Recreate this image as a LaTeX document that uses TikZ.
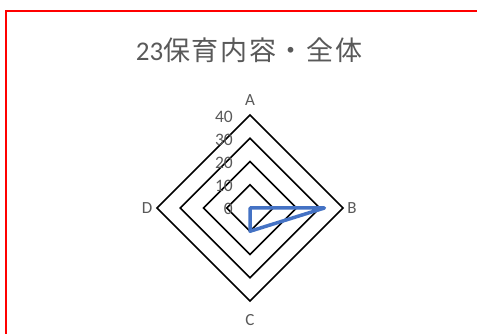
\documentclass[tikz,border=0pt]{standalone}
\usepackage{fontspec}
\setmainfont{Carlito}
\newfontfamily\jpfont[LetterSpace=6]{Noto Sans CJK JP}
\usepackage{tikz}
\definecolor{labelgray}{HTML}{595959}
\definecolor{seriesblue}{HTML}{4472C4}
\tikzset{% chart looks
        grid line/.style={black, line width=1.5pt, line join=miter},
        axis label/.style={text=labelgray, font=\fontsize{17}{17}\selectfont, inner sep=1pt},
        tick label/.style={text=labelgray, font=\fontsize{17.5}{17.5}\selectfont, inner sep=0pt, anchor=east}
        }

\begin{document}
\begin{tikzpicture}[x=1pt,y=-1pt]
\useasboundingbox (0,0) rectangle (477,334);
\clip (0,0) rectangle (477,334);
\fill[white] (0,0) rectangle (477,334);
\draw[red, line width=2.2pt] (6,11) rectangle (500,360);

\node [text=labelgray, font=\fontsize{27}{30}\selectfont] (title) at (249,50) {23{\jpfont 保育内容・全体}};

% grid: 10 per 23.25
\draw[grid line] (250,184.75) -- (273.25,208) -- (250,231.25) -- (226.75,208) -- cycle;
\draw[grid line] (250,161.5) -- (296.5,208) -- (250,254.5) -- (203.5,208) -- cycle;
\draw[grid line] (250,138.25) -- (319.75,208) -- (250,277.75) -- (180.25,208) -- cycle;
\draw[grid line] (250,115) -- (343,208) -- (250,301) -- (157,208) -- cycle;

\node [tick label] (t0) at (233,209) {0};
\node [tick label] (t10) at (233,186) {10};
\node [tick label] (t20) at (233,163) {20};
\node [tick label] (t30) at (233,140) {30};
\node [tick label] (t40) at (233,117) {40};

\node [axis label] (A) at (250,100) {A};
\node [axis label] (B) at (352,208) {B};
\node [axis label] (C) at (250,320) {C};
\node [axis label] (D) at (147,208) {D};

% series
\draw[seriesblue, line width=3.5pt, line join=round] (250,208) -- (324.4,208) -- (250,231.25) -- cycle;
\end{tikzpicture}
\end{document}
